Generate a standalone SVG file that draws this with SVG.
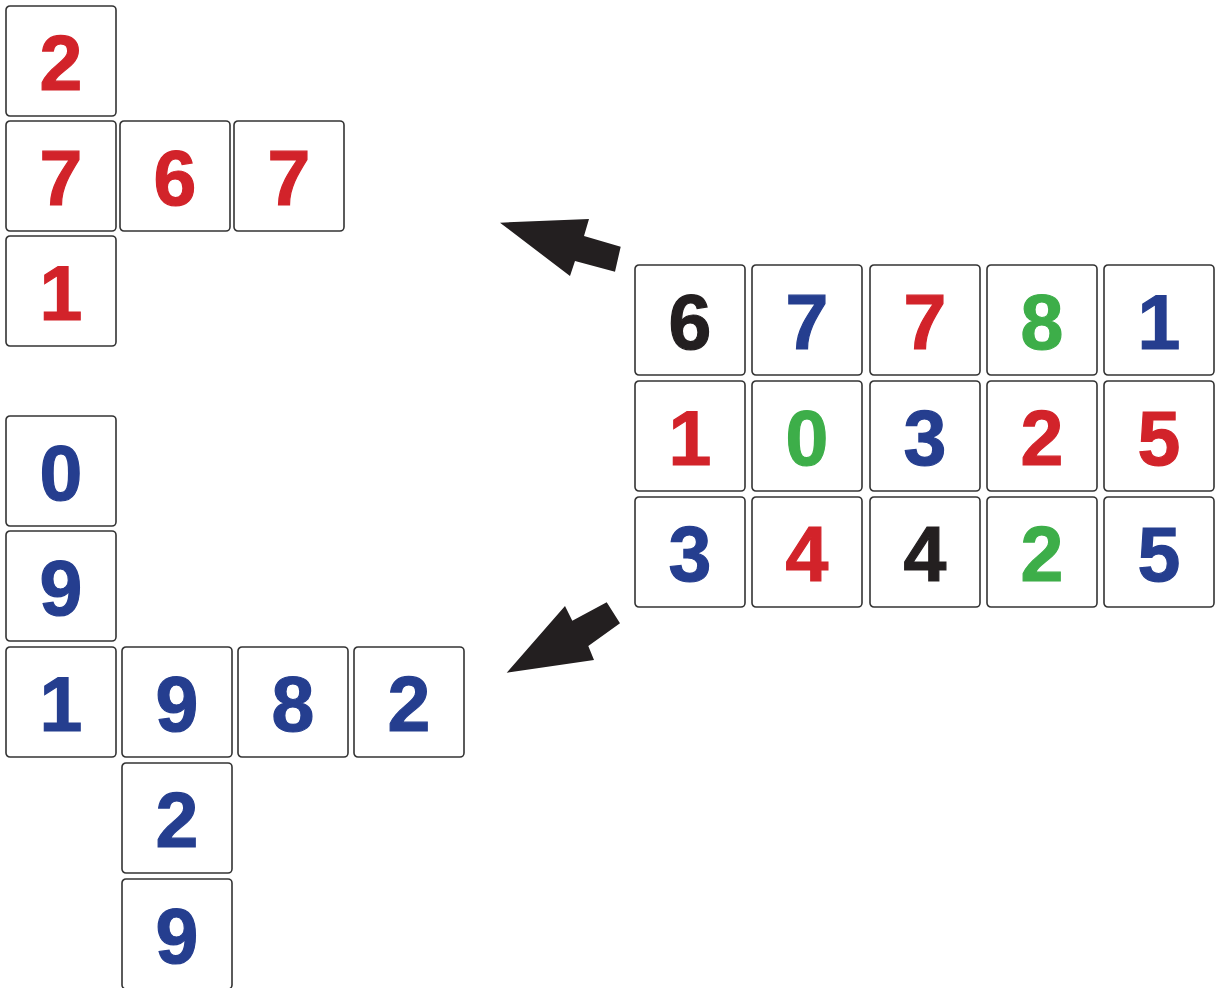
<svg xmlns="http://www.w3.org/2000/svg" width="1215" height="988" viewBox="0 0 1215 988">
<style>
.t{fill:#fff;stroke:#333;stroke-width:1.6}
.d{font-family:"Liberation Sans",Arial,sans-serif;font-weight:bold;font-size:77px;text-anchor:middle;stroke-width:1.2}
.r{fill:#d2232a;stroke:#d2232a}.b{fill:#253e8f;stroke:#253e8f}.g{fill:#3dae49;stroke:#3dae49}.k{fill:#231f20;stroke:#231f20}
</style>
<defs>
<rect id="tile" class="t" x="0" y="0" width="110" height="110" rx="4"/>
</defs>
<g id="cross-top">
<g id="t1"><use href="#tile" x="6" y="6"/><text class="d r" x="61" y="90">2</text></g>
<g id="t2"><use href="#tile" x="6" y="121"/><text class="d r" x="61" y="205">7</text></g>
<g id="t3"><use href="#tile" x="120" y="121"/><text class="d r" x="175" y="205">6</text></g>
<g id="t4"><use href="#tile" x="234" y="121"/><text class="d r" x="289" y="205">7</text></g>
<g id="t5"><use href="#tile" x="6" y="236"/><text class="d r" x="61" y="320">1</text></g>
</g>
<g id="cross-bottom">
<g id="b1"><use href="#tile" x="6" y="416"/><text class="d b" x="61" y="500">0</text></g>
<g id="b2"><use href="#tile" x="6" y="531"/><text class="d b" x="61" y="615">9</text></g>
<g id="b3"><use href="#tile" x="6" y="647"/><text class="d b" x="61" y="731">1</text></g>
<g id="b4"><use href="#tile" x="122" y="647"/><text class="d b" x="177" y="731">9</text></g>
<g id="b5"><use href="#tile" x="238" y="647"/><text class="d b" x="293" y="731">8</text></g>
<g id="b6"><use href="#tile" x="354" y="647"/><text class="d b" x="409" y="731">2</text></g>
<g id="b7"><use href="#tile" x="122" y="763"/><text class="d b" x="177" y="847">2</text></g>
<g id="b8"><use href="#tile" x="122" y="879"/><text class="d b" x="177" y="963">9</text></g>
</g>
<g id="grid">
<g id="g11"><use href="#tile" x="635" y="265"/><text class="d k" x="690" y="349">6</text></g>
<g id="g12"><use href="#tile" x="752" y="265"/><text class="d b" x="807" y="349">7</text></g>
<g id="g13"><use href="#tile" x="870" y="265"/><text class="d r" x="925" y="349">7</text></g>
<g id="g14"><use href="#tile" x="987" y="265"/><text class="d g" x="1042" y="349">8</text></g>
<g id="g15"><use href="#tile" x="1104" y="265"/><text class="d b" x="1159" y="349">1</text></g>
<g id="g21"><use href="#tile" x="635" y="381"/><text class="d r" x="690" y="465">1</text></g>
<g id="g22"><use href="#tile" x="752" y="381"/><text class="d g" x="807" y="465">0</text></g>
<g id="g23"><use href="#tile" x="870" y="381"/><text class="d b" x="925" y="465">3</text></g>
<g id="g24"><use href="#tile" x="987" y="381"/><text class="d r" x="1042" y="465">2</text></g>
<g id="g25"><use href="#tile" x="1104" y="381"/><text class="d r" x="1159" y="465">5</text></g>
<g id="g31"><use href="#tile" x="635" y="497"/><text class="d b" x="690" y="581">3</text></g>
<g id="g32"><use href="#tile" x="752" y="497"/><text class="d r" x="807" y="581">4</text></g>
<g id="g33"><use href="#tile" x="870" y="497"/><text class="d k" x="925" y="581">4</text></g>
<g id="g34"><use href="#tile" x="987" y="497"/><text class="d g" x="1042" y="581">2</text></g>
<g id="g35"><use href="#tile" x="1104" y="497"/><text class="d b" x="1159" y="581">5</text></g>
</g>
<g id="connectors" fill="#231f20">
<polygon points="500,222.7 589,219 584,236 620.7,246.7 615,271.7 575,261 570,276"/>
<polygon points="506.7,672.7 565,606 572.3,620.7 606.7,602.3 620,623.3 588.3,646 594,660"/>
</g>
</svg>
